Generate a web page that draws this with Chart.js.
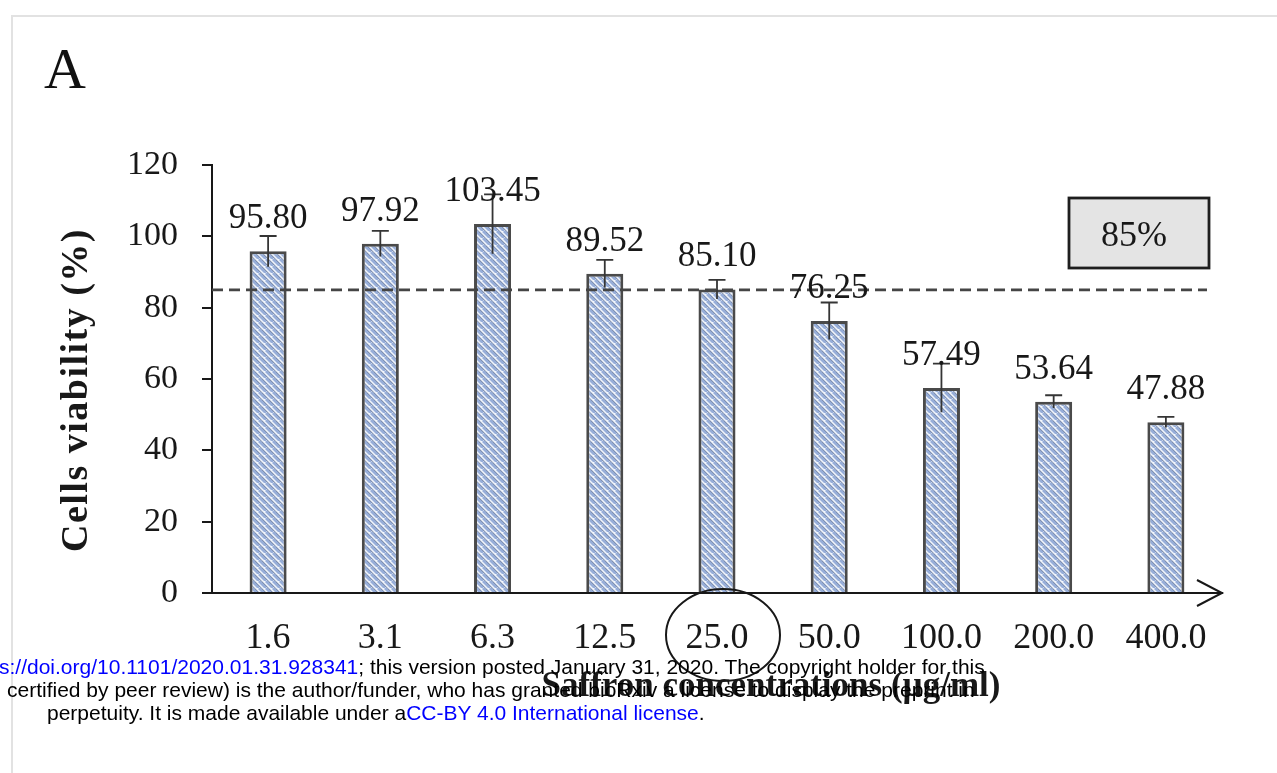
<!DOCTYPE html>
<html>
<head>
<meta charset="utf-8">
<script src="https://cdn.jsdelivr.net/npm/chart.js@4.4.1/dist/chart.umd.min.js"></script>
<style>
  html, body { margin: 0; padding: 0; background: #fff; width: 1277px; height: 773px; overflow: hidden; }
  #frame { position: absolute; left: 11px; top: 15px; width: 1300px; height: 800px;
           border-left: 2px solid #e2e2e2; border-top: 2px solid #e2e2e2; }
  #wrap { position: absolute; left: 0; top: 0; width: 1277px; height: 773px; filter: blur(0.55px); }
  .wm { position: absolute; font-family: "Liberation Sans", Arial, sans-serif; font-size: 21px;
        line-height: 23px; color: #000; white-space: nowrap; }
  .wm .lnk { color: #0000ff; }
</style>
</head>
<body>
<div id="frame"></div>
<div id="wrap"><canvas id="c" width="1277" height="773"></canvas></div>
<div class="wm" style="left:-1px; top:655px;"><span class="lnk">s://doi.org/10.1101/2020.01.31.928341</span>; this version posted January 31, 2020. The copyright holder for this</div>
<div class="wm" style="left:7px; top:678px;">certified by peer review) is the author/funder, who has granted bioRxiv a license to display the preprint in</div>
<div class="wm" style="left:47px; top:701px;">perpetuity. It is made available under a<span class="lnk">CC-BY 4.0 International license</span>.</div>
<script>
// Saffron concentrations (µg/ml) on the x axis
const concentrations = ['1.6', '3.1', '6.3', '12.5', '25.0', '50.0', '100.0', '200.0', '400.0'];
// Mean cell viability (%) per concentration
const viability = [95.80, 97.92, 103.45, 89.52, 85.10, 76.25, 57.49, 53.64, 47.88];
// Standard deviation drawn as error bars
const deviation = [4.3, 3.6, 8.3, 3.9, 2.7, 5.2, 6.8, 1.8, 1.5];
// Y axis range and step
const yMin = 0, yMax = 120, yStep = 20;
// Viability threshold
const threshold = 85;
const thresholdLabel = '85%';
const highlighted = '25.0';

const SERIF = '"Liberation Serif", "Times New Roman", serif';
const INK = '#181818';

const canvas = document.getElementById('c');
const ctx = canvas.getContext('2d');

// Diagonal hatch fill for the bars
function makeHatch() {
  const p = 7;
  const t = document.createElement('canvas');
  t.width = p; t.height = p;
  const g = t.getContext('2d');
  g.fillStyle = '#f2f6fc';
  g.fillRect(0, 0, p, p);
  for (const o of [-p, 0, p]) {
    g.strokeStyle = '#97aed9';
    g.lineWidth = 2.8;
    g.beginPath(); g.moveTo(o, 0); g.lineTo(o + p, p); g.stroke();
    g.strokeStyle = '#56698f';
    g.lineWidth = 0.9;
    g.beginPath(); g.moveTo(o + 2.3, 0); g.lineTo(o + 2.3 + p, p); g.stroke();
  }
  return ctx.createPattern(t, 'repeat');
}

const decorations = {
  id: 'decorations',
  afterDatasetsDraw(chart) {
    const c = chart.ctx;
    const xs = chart.scales.x, ys = chart.scales.y;
    const area = chart.chartArea;
    c.save();

    // threshold line
    const ty = ys.getPixelForValue(threshold);
    c.strokeStyle = '#454545';
    c.lineWidth = 2.6;
    c.setLineDash([11, 6]);
    c.beginPath(); c.moveTo(area.left, ty); c.lineTo(area.right - 15, ty); c.stroke();
    c.setLineDash([]);

    // error bars
    c.strokeStyle = '#353535';
    c.lineWidth = 1.8;
    viability.forEach((v, i) => {
      const x = xs.getPixelForValue(i);
      const hi = ys.getPixelForValue(v + deviation[i]);
      const lo = ys.getPixelForValue(v - deviation[i]);
      c.beginPath();
      c.moveTo(x, hi); c.lineTo(x, lo);
      c.moveTo(x - 8.5, hi); c.lineTo(x + 8.5, hi);
      c.stroke();
    });

    // value labels
    c.fillStyle = INK;
    c.font = '35px ' + SERIF;
    c.textAlign = 'center';
    c.textBaseline = 'alphabetic';
    viability.forEach((v, i) => {
      const x = xs.getPixelForValue(i);
      const top = ys.getPixelForValue(v);
      c.fillText(v.toFixed(2), x, top - 23);
    });

    // arrow head at the end of the x axis
    c.strokeStyle = INK;
    c.lineWidth = 2;
    c.beginPath();
    c.moveTo(area.right - 25, area.bottom - 13);
    c.lineTo(area.right, area.bottom);
    c.lineTo(area.right - 25, area.bottom + 13);
    c.stroke();

    // ring around the highlighted concentration
    const hx = xs.getPixelForValue(concentrations.indexOf(highlighted));
    c.lineWidth = 2;
    c.beginPath();
    c.ellipse(hx + 6, area.bottom + 42, 57, 46, 0, 0, Math.PI * 2);
    c.stroke();

    // threshold box
    c.fillStyle = '#e4e4e4';
    c.fillRect(1069, 198, 140, 70);
    c.strokeStyle = '#1e1e1e';
    c.lineWidth = 2.8;
    c.strokeRect(1069, 198, 140, 70);
    c.fillStyle = INK;
    c.font = '36px ' + SERIF;
    c.textAlign = 'center';
    c.textBaseline = 'middle';
    c.fillText(thresholdLabel, 1134, 237);

    // panel letter
    c.font = '58px ' + SERIF;
    c.textAlign = 'left';
    c.textBaseline = 'alphabetic';
    c.fillStyle = '#111';
    c.fillText('A', 44, 88);

    // axis titles
    c.fillStyle = INK;
    c.font = 'bold 38px ' + SERIF;
    if ('letterSpacing' in c) c.letterSpacing = '1.5px';
    c.textAlign = 'center';
    c.textBaseline = 'middle';
    c.save();
    c.translate(77, 390);
    c.rotate(-Math.PI / 2);
    c.fillText('Cells viability (%)', 0, 0);
    c.restore();
    c.font = 'bold 35px ' + SERIF;
    if ('letterSpacing' in c) c.letterSpacing = '0px';
    c.textBaseline = 'alphabetic';
    c.fillText('Saffron concentrations (µg/ml)', 771, 696);

    c.restore();
  }
};

new Chart(ctx, {
  type: 'bar',
  data: {
    labels: concentrations,
    datasets: [{
      data: viability,
      backgroundColor: makeHatch(),
      borderColor: '#4a4a4a',
      borderWidth: 3,
      barPercentage: 0.33,
      categoryPercentage: 1
    }]
  },
  options: {
    responsive: false,
    animation: false,
    devicePixelRatio: 1,
    layout: { padding: { left: 0, top: 165, right: 55, bottom: 0 } },
    plugins: { legend: { display: false }, tooltip: { enabled: false } },
    scales: {
      x: {
        grid: { display: false, drawTicks: false },
        border: { display: true, color: INK, width: 2 },
        ticks: { font: { family: SERIF, size: 36 }, color: INK, padding: 24,
                 maxRotation: 0, autoSkip: false },
        afterFit(s) { s.height = 180; }
      },
      y: {
        min: yMin, max: yMax,
        ticks: { stepSize: yStep, font: { family: SERIF, size: 34 }, color: INK, padding: 24 },
        grid: { drawOnChartArea: false, drawTicks: true, tickLength: 10, color: INK, lineWidth: 2 },
        border: { display: true, color: INK, width: 2 },
        afterFit(s) { s.width = 212; }
      }
    }
  },
  plugins: [decorations]
});
</script>
</body>
</html>
